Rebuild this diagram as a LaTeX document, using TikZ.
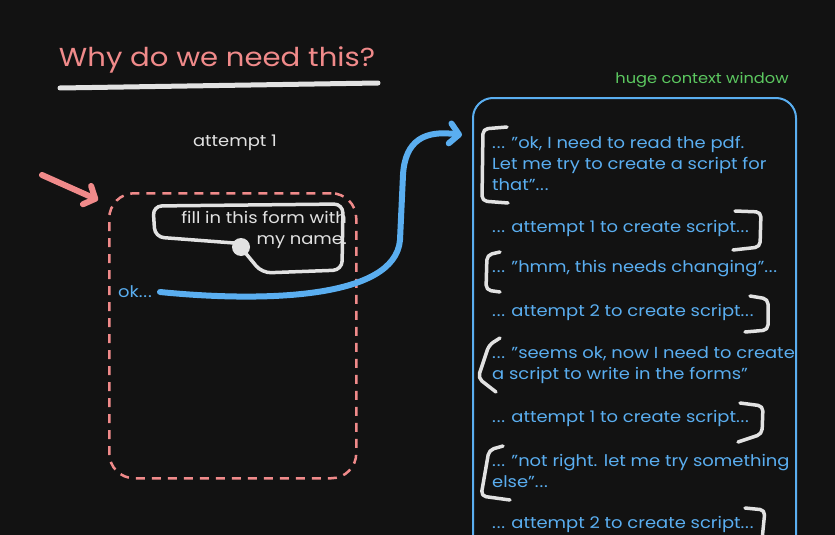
\documentclass[tikz,border=0pt]{standalone}
\usepackage{fontspec}
\setmainfont[FakeStretch=1.12, Ligatures=NoCommon]{Poppins}
\usepackage{xcolor}
\usepackage{tikz}
\usetikzlibrary{positioning, arrows.meta}

\definecolor{bgdark}{HTML}{121212}
\definecolor{salmon}{HTML}{F08A8A}
\definecolor{skyblue}{HTML}{5AAEF0}
\definecolor{chalk}{HTML}{E2E2E2}
\definecolor{leafgreen}{HTML}{5CC860}
\newcommand{\trail}{.\kern0.8pt.\kern0.8pt.}

\begin{document}
\begin{tikzpicture}[x=1pt, y=-1pt, every node/.style={font=\fontsize{16}{21}\selectfont, inner sep=0pt},
    ctxtext/.style={text=skyblue, align=left, anchor=west},
    brkt/.style={draw=chalk, line width=3.5pt, line cap=round, line join=round, rounded corners=5pt},
    fatarrow/.style={line width=6pt, line cap=round, -{Straight Barb[round, length=9pt, width=20pt]}}]
    \fill[bgdark] (0,0) rectangle (835,535);
    \clip (0,0) rectangle (835,535);

    % title
    \node[text=salmon, font=\fontsize{26}{30}\selectfont] (title) at (217,60) {Why do we need this?};
    \draw[chalk, line width=5pt, line cap=round] (60,88) -- (378,83);

    % left side: one attempt
    \node[text=chalk] (attemptlbl) at (235,143) {attempt 1};
    \node[draw=salmon, dash pattern=on 9pt off 7pt, line width=2.5pt, rounded corners=25pt,
          minimum width=247pt, minimum height=285pt, anchor=north west] (attempt) at (108,192) {};
    \node[text=chalk, align=right, anchor=north east] (prompt) at (347,211) {fill in this form with\\my name.};
    \draw[chalk, line width=3.5pt, rounded corners=9pt]
        (243,250) -- (262,273) -- (342,270) -- (343,204) -- (153,206) -- (155,237) -- (234,243);
    \fill[chalk] (241,247) circle (9pt);
    \node[text=skyblue, anchor=west] (ok) at (118,292) {ok\trail};
    \coordinate (pinkstart) at (42,175);
    \draw[salmon, fatarrow] (pinkstart) -- ([shift={(-10,8)}]attempt.north west);

    % right side: the context window
    \node[text=leafgreen, font=\fontsize{14.5}{18}\selectfont] (ctxlbl) at (702,80) {huge context window};
    \node[draw=skyblue, line width=2pt, rounded corners=20pt, minimum width=323pt, minimum height=480pt,
          anchor=north west] (ctx) at (472,97) {};
    \draw[skyblue, fatarrow] ([xshift=8pt]ok.east) .. controls (260,302) and (395,300) .. (400,240)
        -- (403,175) .. controls (405,140) and (425,130) .. ([shift={(-10,38)}]ctx.north west);

    \node[ctxtext] (m1) at (492,163) {\trail{} "ok, I need to read the pdf.\\Let me try to create a script for\\that"\trail};
    \node[ctxtext] (m2) at (492,228) {\trail{} attempt 1 to create script\trail};
    \node[ctxtext] (m3) at (492,269) {\trail{} "hmm, this needs changing"\trail};
    \node[ctxtext] (m4) at (492,312) {\trail{} attempt 2 to create script\trail};
    \node[ctxtext] (m5) at (492,365) {\trail{} "seems ok, now I need to create\\a script to write in the forms"};
    \node[ctxtext] (m6) at (492,418) {\trail{} attempt 1 to create script\trail};
    \node[ctxtext] (m7) at (492,471) {\trail{} "not right. let me try something\\else"\trail};
    \node[ctxtext] (m8) at (492,524) {\trail{} attempt 2 to create script\trail};

    % brackets
    \draw[brkt] (507,127) -- (483,129) -- (482,201) -- (508,203);
    \draw[brkt] (735,211) -- (761,212) -- (760,247) -- (733,250);
    \draw[brkt] (500,252) -- (487,255) -- (486,290) -- (500,292);
    \draw[brkt] (750,296) -- (768,299) -- (768,330) -- (745,332);
    \draw[brkt] (500,338) -- (489,345) -- (478,378) -- (496,392);
    \draw[brkt] (740,403) -- (763,406) -- (762,434) -- (738,442);
    \draw[brkt] (503,446) -- (489,450) -- (481,496) -- (510,500);
    \draw[brkt] (745,508) -- (765,510) -- (762,540);
\end{tikzpicture}
\end{document}
